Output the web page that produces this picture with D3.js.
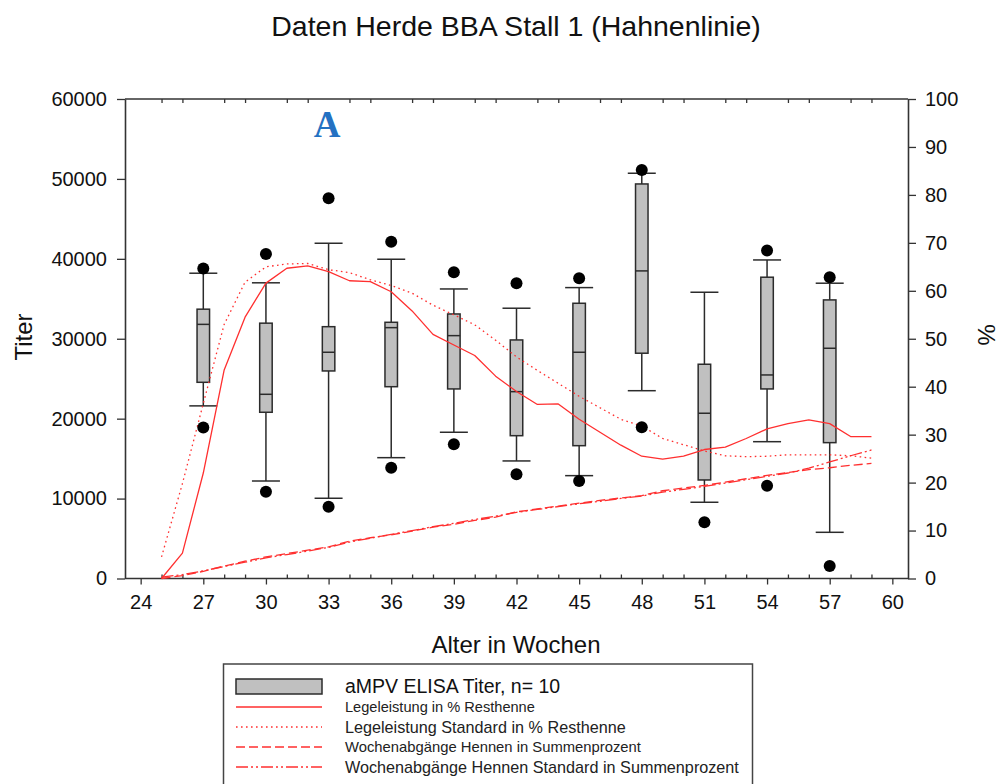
<!DOCTYPE html>
<html>
<head>
<meta charset="utf-8">
<script src="https://cdn.jsdelivr.net/npm/d3@7"></script>
<style>
  body { margin: 0; background: #fff; }
  svg { display: block; font-family: "Liberation Sans", Arial, Helvetica, sans-serif; }
</style>
</head>
<body>
<svg id="chart" width="999" height="784"></svg>
<script>
// ELISA titre boxes, one per sampling week
const boxWeeks    = [27, 30, 33, 36, 39, 42, 45, 48, 51, 54, 57];
const whiskerLow  = [21600, 12200, 10040, 15120, 18300, 14710, 12870, 23500,  9540, 17120,  5780];
const quartile1   = [24550, 20800, 25970, 24000, 23720, 17870, 16620, 28190, 12330, 23720, 17000];
const medianTiter = [31800, 23050, 28310, 31390, 30390, 23380, 28310, 38490, 20680, 25470, 28810];
const quartile3   = [33700, 31950, 31510, 32060, 33100, 29850, 34440, 49370, 26810, 37700, 34860];
const whiskerHigh = [38200, 37000, 41950, 39950, 36230, 33820, 36400, 50710, 35820, 39860, 36950];
const outlierLow  = [18900, 10860,  8990, 13870, 16800, 13040, 12200, 18920,  7030, 11620,  1560];
const outlierHigh = [38800, 40600, 47580, 42150, 38320, 36950, 37570, 51130,  null, 41030, 37700];

// Weekly flock performance curves (%)
const lineWeeks = [25, 26, 27, 28, 29, 30, 31, 32, 33, 34, 35, 36, 37, 38, 39, 40, 41, 42,
                   43, 44, 45, 46, 47, 48, 49, 50, 51, 52, 53, 54, 55, 56, 57, 58, 59];
const legeleistung = [0, 5.3, 22.0, 43.5, 54.5, 61.6, 64.7, 65.2, 64.0, 62.1, 61.9, 59.8, 55.8, 50.9,
                      48.7, 46.5, 42.2, 39.0, 36.3, 36.4, 33.2, 30.5, 27.8, 25.5, 24.9, 25.5, 26.9,
                      27.4, 29.2, 31.2, 32.3, 33.1, 32.3, 29.6, 29.6];
const legeleistungStd = [4.5, 19.8, 36.5, 53.0, 61.8, 65.0, 65.6, 65.7, 64.4, 63.8, 62.3, 61.1, 59.5,
                         57.0, 55.0, 52.9, 49.7, 46.2, 43.4, 40.7, 38.0, 35.6, 33.2, 31.8, 29.2, 27.9,
                         26.6, 25.6, 25.4, 25.5, 25.8, 25.8, 25.8, 25.6, 25.1];
const abgaenge = [0, 0.6, 1.5, 2.6, 3.6, 4.5, 5.2, 5.9, 6.6, 7.8, 8.5, 9.1, 9.9, 10.7, 11.3, 12.1,
                  12.8, 13.9, 14.5, 15.1, 15.7, 16.3, 16.8, 17.3, 18.3, 18.9, 19.4, 20.1, 20.8, 21.5,
                  22.1, 22.7, 23.1, 23.6, 24.0];
const abgaengeStd = [0.3, 0.8, 1.6, 2.5, 3.4, 4.3, 5.0, 5.7, 6.5, 7.6, 8.4, 9.2, 10.0, 10.8, 11.5,
                     12.3, 13.0, 13.8, 14.4, 15.0, 15.6, 16.1, 16.7, 17.2, 18.0, 18.6, 19.2, 19.9,
                     20.6, 21.3, 22.0, 23.0, 24.3, 25.6, 26.8];

// Axis ticks and texts
const xTickLabels = [24, 27, 30, 33, 36, 39, 42, 45, 48, 51, 54, 57, 60];
const xMinorWeeks = [25, 26, 28, 29, 31, 32, 34, 35, 37, 38, 40, 41, 43, 44, 46, 47, 49, 50,
                     52, 53, 55, 56, 58, 59];
const leftTicks  = [0, 10000, 20000, 30000, 40000, 50000, 60000];
const rightTicks = [0, 10, 20, 30, 40, 50, 60, 70, 80, 90, 100];
const legendLabels = [
  "aMPV ELISA Titer, n= 10",
  "Legeleistung in % Resthenne",
  "Legeleistung Standard in % Resthenne",
  "Wochenabgänge  Hennen in Summenprozent",
  "Wochenabgänge Hennen Standard in Summenprozent"
];

const svg = d3.select("#chart");
const plot = { left: 125, right: 908, top: 99, bottom: 578.5 };
const axisColor = "#333";
const red = "#ff2f2f";

const x  = d3.scaleLinear().domain([23.25, 60.75]).range([plot.left, plot.right]);
const yL = d3.scaleLinear().domain([0, 60000]).range([plot.bottom, plot.top]);
const yR = d3.scaleLinear().domain([0, 100]).range([plot.bottom, plot.top]);

// Title and marker letter
svg.append("text").attr("x", 516).attr("y", 36).attr("text-anchor", "middle")
  .attr("font-size", 28.5).attr("fill", "#111").text("Daten Herde BBA Stall 1 (Hahnenlinie)");
svg.append("text").attr("x", 327).attr("y", 137).attr("text-anchor", "middle")
  .attr("font-family", "'Liberation Serif', 'DejaVu Serif', serif").attr("font-weight", "bold")
  .attr("font-size", 37).attr("fill", "#2471c2").text("A");

// Frame top line
svg.append("line").attr("x1", plot.left).attr("x2", plot.right).attr("y1", plot.top).attr("y2", plot.top)
  .attr("stroke", axisColor).attr("stroke-width", 1.6);

function styleAxis(g, fs) {
  g.selectAll("path.domain").attr("stroke", axisColor).attr("stroke-width", 1.6);
  g.selectAll(".tick line").attr("stroke", axisColor).attr("stroke-width", 1.3);
  g.selectAll(".tick text").attr("fill", "#111").attr("font-size", fs)
    .attr("font-family", "'Liberation Sans', Arial, sans-serif");
}

// Left axis (titre)
const gL = svg.append("g").attr("transform", `translate(${plot.left},0)`)
  .call(d3.axisLeft(yL).tickValues(leftTicks).tickSize(8).tickSizeOuter(0).tickPadding(10).tickFormat(d3.format("d")));
styleAxis(gL, 20);

// Right axis (%)
const gR = svg.append("g").attr("transform", `translate(${plot.right},0)`)
  .call(d3.axisRight(yR).tickValues(rightTicks).tickSize(8).tickSizeOuter(0).tickPadding(9).tickFormat(d3.format("d")));
styleAxis(gR, 20);

// Bottom axis: labelled weeks outward, remaining weeks inward
const gB = svg.append("g").attr("transform", `translate(0,${plot.bottom})`)
  .call(d3.axisBottom(x).tickValues(xTickLabels).tickSize(6).tickSizeOuter(0).tickPadding(10));
styleAxis(gB, 20);
gB.select("path.domain").attr("d", `M${plot.left},0H${plot.right}`);
const gBm = svg.append("g").attr("transform", `translate(0,${plot.bottom})`)
  .call(d3.axisBottom(x).tickValues(xMinorWeeks).tickSize(-4).tickSizeOuter(0).tickFormat(""));
gBm.select("path.domain").remove();
styleAxis(gBm, 0);

// Top axis minor ticks
const gT = svg.append("g").attr("transform", `translate(0,${plot.top})`)
  .call(d3.axisTop(x).tickValues(xMinorWeeks).tickSize(-4).tickSizeOuter(0).tickFormat(""));
gT.select("path.domain").remove();
styleAxis(gT, 0);

// Axis titles
svg.append("text").attr("transform", "translate(32,337) rotate(-90)").attr("text-anchor", "middle")
  .attr("font-size", 24).attr("fill", "#111").text("Titer");
svg.append("text").attr("transform", "translate(978,335) rotate(90)").attr("text-anchor", "middle")
  .attr("font-size", 24).attr("fill", "#111").text("%");
svg.append("text").attr("x", 516).attr("y", 653).attr("text-anchor", "middle")
  .attr("font-size", 24).attr("fill", "#111").text("Alter in Wochen");

// Box plots
const boxes = boxWeeks.map((w, i) => ({
  w, lo: whiskerLow[i], q1: quartile1[i], med: medianTiter[i], q3: quartile3[i],
  hi: whiskerHigh[i], oLo: outlierLow[i], oHi: outlierHigh[i]
}));
const boxW = 12.5, capW = 28;
const gBox = svg.append("g");
boxes.forEach(b => {
  const cx = x(b.w);
  const g = gBox.append("g").attr("stroke", "#2b2b2b").attr("stroke-width", 1.5);
  g.append("line").attr("x1", cx).attr("x2", cx).attr("y1", yL(b.hi)).attr("y2", yL(b.q3));
  g.append("line").attr("x1", cx).attr("x2", cx).attr("y1", yL(b.q1)).attr("y2", yL(b.lo));
  g.append("line").attr("x1", cx - capW / 2).attr("x2", cx + capW / 2).attr("y1", yL(b.hi)).attr("y2", yL(b.hi));
  g.append("line").attr("x1", cx - capW / 2).attr("x2", cx + capW / 2).attr("y1", yL(b.lo)).attr("y2", yL(b.lo));
  g.append("rect").attr("x", cx - boxW / 2).attr("width", boxW)
    .attr("y", yL(b.q3)).attr("height", yL(b.q1) - yL(b.q3)).attr("fill", "#c0c0c0");
  g.append("line").attr("x1", cx - boxW / 2).attr("x2", cx + boxW / 2).attr("y1", yL(b.med)).attr("y2", yL(b.med));
});

// Percentage curves
const series = [
  { values: legeleistung,    dash: null },
  { values: legeleistungStd, dash: "1.6,3.4" },
  { values: abgaenge,        dash: "9,4" },
  { values: abgaengeStd,     dash: "12,3,2,3,2,3" }
];
const line = d3.line().x(d => x(d[0])).y(d => yR(d[1])).curve(d3.curveLinear);
series.forEach(s => {
  svg.append("path").datum(lineWeeks.map((w, i) => [w, s.values[i]]))
    .attr("d", line).attr("fill", "none").attr("stroke", red).attr("stroke-width", 1.3)
    .attr("stroke-linejoin", "round").attr("stroke-dasharray", s.dash);
});

// Outlier dots
const gDots = svg.append("g").attr("fill", "#000");
boxes.forEach(b => {
  [b.oLo, b.oHi].filter(v => v != null).forEach(v => {
    gDots.append("circle").attr("cx", x(b.w)).attr("cy", yL(v)).attr("r", 6);
  });
});

// Legend
const lg = svg.append("g");
lg.append("rect").attr("x", 223.5).attr("y", 664).attr("width", 529).attr("height", 140)
  .attr("fill", "#fff").attr("stroke", "#444").attr("stroke-width", 1.5);
lg.append("rect").attr("x", 236).attr("y", 679).attr("width", 86).attr("height", 15)
  .attr("fill", "#c0c0c0").attr("stroke", "#2b2b2b").attr("stroke-width", 1.5);
lg.append("text").attr("x", 345).attr("y", 693).attr("font-size", 19.5).attr("fill", "#111").text(legendLabels[0]);
const legRows = [
  { y: 707, size: 14.6, dash: null },
  { y: 727, size: 16.2, dash: "1.6,3.4" },
  { y: 747, size: 14.8, dash: "9,4" },
  { y: 767, size: 16.2, dash: "12,3,2,3,2,3" }
];
legRows.forEach((r, i) => {
  lg.append("line").attr("x1", 236).attr("x2", 322).attr("y1", r.y).attr("y2", r.y)
    .attr("stroke", red).attr("stroke-width", 1.5).attr("stroke-dasharray", r.dash);
  lg.append("text").attr("x", 345).attr("y", r.y + r.size * 0.36).attr("font-size", r.size)
    .attr("fill", "#222").text(legendLabels[i + 1]);
});
</script>
</body>
</html>
